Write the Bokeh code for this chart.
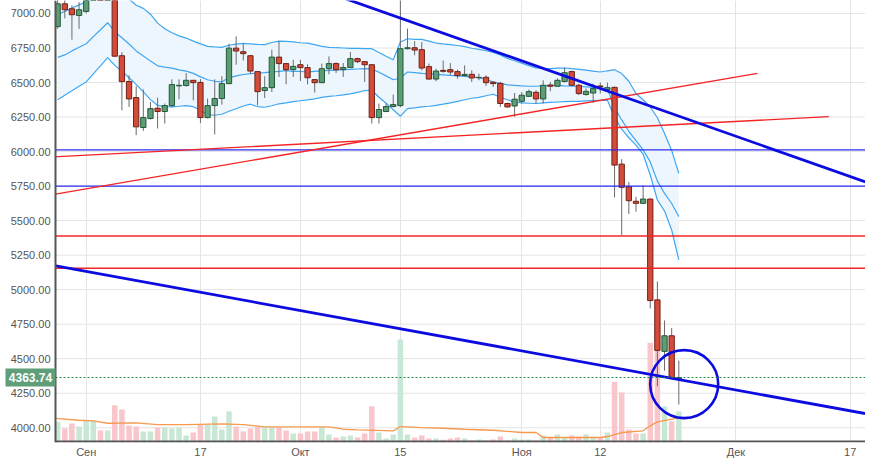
import pandas as pd
from bokeh.plotting import figure
from bokeh.models import Range1d, FixedTicker
from bokeh.models import ColumnDataSource
from bokeh.embed import file_html
from bokeh.resources import INLINE

# ---------------- data ----------------
origin = pd.Timestamp("2018-09-01")
dates = pd.date_range("2018-08-28", "2018-11-23", freq="D")

open_ = [6905, 7070, 7034, 6985, 7015, 7190, 7270, 7260, 7370, 6694, 6507, 6391, 6174, 6239, 6314, 6290,
         6333, 6476, 6478, 6516, 6501, 6246, 6333, 6384, 6492, 6749, 6723, 6694, 6579, 6442, 6463, 6684,
         6637, 6593, 6629, 6608, 6521, 6499, 6600, 6637, 6593, 6608, 6673, 6651, 6629, 6246, 6290, 6326,
         6333, 6745, 6752, 6738, 6615, 6525, 6588, 6593, 6579, 6550, 6559, 6535, 6538, 6502, 6494, 6348,
         6330, 6364, 6400, 6429, 6381, 6482, 6473, 6507, 6579, 6480, 6413, 6424, 6475, 6449, 6465, 5909,
         5745, 5640, 5625, 5656, 4926, 4553, 4666, 4355]
high = [7110, 7100, 7058, 7082, 7240, 7340, 7340, 7410, 7400, 6720, 6552, 6473, 6449, 6359, 6391, 6348,
        6523, 6523, 6569, 6518, 6525, 6384, 6523, 6545, 6781, 6834, 6781, 6700, 6583, 6545, 6738, 6800,
        6640, 6665, 6665, 6632, 6525, 6637, 6689, 6646, 6641, 6720, 6680, 6655, 6632, 6348, 6348, 6413,
        7450, 6890, 6800, 6793, 6637, 6600, 6660, 6641, 6593, 6624, 6588, 6564, 6552, 6511, 6504, 6355,
        6424, 6431, 6449, 6444, 6516, 6504, 6530, 6608, 6585, 6492, 6457, 6492, 6500, 6500, 6470, 5945,
        5779, 5673, 5755, 5660, 5059, 4777, 4722, 4486]
low = [6890, 6964, 6810, 6889, 7000, 7150, 7200, 7240, 6684, 6299, 6323, 6119, 6150, 6232, 6167, 6203,
       6320, 6379, 6470, 6371, 6207, 6240, 6124, 6340, 6488, 6629, 6660, 6564, 6335, 6388, 6431, 6540,
       6487, 6540, 6511, 6487, 6427, 6495, 6559, 6569, 6540, 6605, 6640, 6504, 6203, 6203, 6285, 6320,
       6320, 6740, 6697, 6588, 6520, 6509, 6570, 6552, 6528, 6545, 6504, 6516, 6475, 6467, 6323, 6318,
       6251, 6348, 6395, 6348, 6348, 6436, 6470, 6500, 6475, 6410, 6405, 6352, 6420, 6440, 5668, 5396,
       5548, 5564, 5620, 4864, 4300, 4413, 4355, 4168]
close = [7070, 7027, 6991, 7027, 7190, 7270, 7260, 7370, 6691, 6507, 6381, 6179, 6246, 6311, 6290, 6333,
         6485, 6480, 6516, 6499, 6246, 6333, 6384, 6492, 6749, 6728, 6709, 6583, 6434, 6463, 6684, 6637,
         6593, 6617, 6608, 6535, 6499, 6600, 6637, 6593, 6608, 6673, 6651, 6629, 6246, 6304, 6326, 6340,
         6745, 6752, 6735, 6605, 6525, 6583, 6581, 6576, 6550, 6559, 6533, 6537, 6499, 6492, 6348, 6323,
         6379, 6408, 6434, 6381, 6480, 6473, 6516, 6571, 6480, 6420, 6436, 6456, 6470, 6463, 5902, 5741,
         5644, 5625, 5656, 4921, 4560, 4666, 4361, 4363.74]
volume = [20.7, 14, 19, 16, 21.7, 21.7, 12, 12, 37.3, 33, 17, 16, 11, 11, 15, 15,
          14, 15, 7, 10, 18, 18, 26, 13, 31, 16, 11, 14, 16, 15, 15, 15,
          12, 9, 9, 11, 11, 15, 8, 5, 6, 7, 5, 9, 36.3, 10, 4, 8,
          103.3, 8, 5, 7, 4, 4, 2.7, 4, 5, 4, 2, 3, 2, 3, 6, 2,
          4, 3, 3, 2, 7, 5, 8, 5, 7, 6, 8, 6, 5, 10, 61, 50,
          13, 9, 9, 100, 119, 36, 21.3, 31]

bb_upper = [6993, 7015, 7040, 7062, 7085, 7140, 7190, 7230, 7200, 7150, 7105, 7060, 7037, 6995, 6930, 6890,
            6860, 6838, 6822, 6800, 6780, 6762, 6758, 6755, 6770, 6778, 6784, 6780, 6776, 6774, 6790, 6800,
            6798, 6794, 6788, 6785, 6775, 6762, 6755, 6752, 6750, 6748, 6747, 6746, 6745, 6718, 6690, 6665,
            6794, 6817, 6812, 6812, 6800, 6786, 6780, 6775, 6768, 6760, 6748, 6740, 6730, 6718, 6700, 6675,
            6658, 6640, 6622, 6606, 6600, 6600, 6604, 6605, 6600, 6595, 6590, 6583, 6576, 6585, 6593, 6565,
            6509, 6420, 6375, 6323, 6245, 6131, 6007, 5842]
bb_middle = [6682, 6700, 6729, 6756, 6781, 6832, 6882, 6933, 6868, 6824, 6779, 6729, 6692, 6655, 6621, 6611,
             6604, 6592, 6583, 6566, 6541, 6520, 6509, 6505, 6534, 6548, 6558, 6564, 6568, 6572, 6577, 6581,
             6586, 6581, 6580, 6577, 6581, 6585, 6588, 6590, 6593, 6595, 6598, 6600, 6599, 6574, 6548, 6520,
             6533, 6576, 6572, 6566, 6563, 6559, 6556, 6552, 6548, 6545, 6541, 6535, 6523, 6504, 6494, 6483,
             6480, 6476, 6473, 6473, 6476, 6480, 6480, 6476, 6473, 6473, 6469, 6465, 6463, 6455, 6319, 6229,
             6147, 6080, 6012, 5925, 5786, 5697, 5624, 5528]
bb_lower = [6376, 6408, 6440, 6473, 6504, 6563, 6621, 6680, 6624, 6582, 6535, 6487, 6432, 6376, 6334, 6325,
            6324, 6328, 6333, 6325, 6299, 6267, 6263, 6270, 6292, 6310, 6330, 6343, 6326, 6321, 6332, 6346,
            6353, 6361, 6368, 6374, 6382, 6393, 6400, 6404, 6411, 6418, 6429, 6442, 6444, 6393, 6350, 6303,
            6256, 6311, 6317, 6324, 6328, 6334, 6343, 6353, 6364, 6375, 6386, 6393, 6404, 6415, 6393, 6375,
            6357, 6352, 6350, 6348, 6352, 6356, 6359, 6361, 6363, 6364, 6367, 6369, 6371, 6371, 6249, 6162,
            6100, 6046, 5981, 5830, 5649, 5569, 5432, 5215]

vol_ma_dates = ["2018-08-27", "2018-08-28", "2018-08-31", "2018-09-02", "2018-09-04", "2018-09-08",
                "2018-09-11", "2018-09-15", "2018-09-20", "2018-09-23", "2018-09-26", "2018-10-05",
                "2018-10-07", "2018-10-09", "2018-10-14", "2018-10-15", "2018-10-18", "2018-10-21",
                "2018-10-24", "2018-10-28", "2018-11-01", "2018-11-03", "2018-11-04", "2018-11-12",
                "2018-11-13", "2018-11-15", "2018-11-18", "2018-11-19", "2018-11-20", "2018-11-23"]
vol_ma = [24.5, 24, 22.3, 21.7, 19.3, 19.7, 18, 18, 18.7, 18, 15.7, 15.7, 13.3, 12.7, 11.7, 16, 15, 14.3,
          13.3, 12.3, 10, 10, 5, 5, 6, 10, 11.7, 16.7, 20.7, 24.7]

# trend lines (date, price pairs) and horizontal levels
blue_trend_1 = (["2018-09-20", "2018-12-25"], [7422, 5674])
blue_trend_2 = (["2018-08-22", "2018-12-25"], [5226, 4047])
red_trend_1 = (["2018-08-22", "2018-12-04"], [5641, 6566])
red_trend_2 = (["2018-08-22", "2018-12-14"], [5947, 6253])
blue_levels = [6012, 5750]
red_levels = [5389, 5155]
circle_date, circle_price = "2018-11-23 18:00", 4316

tick_dates = ["2018-09-01", "2018-09-17", "2018-10-01", "2018-10-15", "2018-11-01", "2018-11-12",
              "2018-12-01", "2018-12-17"]
tick_labels = ["Сен", "17", "Окт", "15", "Ноя", "12", "Дек", "17"]
y_ticks = [4000, 4250, 4500, 4750, 5000, 5250, 5500, 5750, 6000, 6250, 6500, 6750, 7000]


def dayn(s):
    return (pd.Timestamp(s) - origin).total_seconds() / 86400.0


# ---------------- layout constants ----------------
W, H = 865, 460
AXIS_W = 55                      # width of the price-axis strip (drawn inside the frame)
PX_DAY = 7.14                    # pixels per day
X0 = -4.3                        # day value at the price axis
XL = X0 - AXIS_W / PX_DAY        # day value at the canvas left edge
XR = X0 + (W - AXIS_W) / PX_DAY
Y0, Y1 = 3893, 7094
UNITS_PX = (Y1 - Y0) / 443.0     # price units per pixel

days = [float((d - origin).days) for d in dates]
up = [c >= o for o, c in zip(open_, close)]
src = ColumnDataSource(dict(
    x=days, o=open_, h=high, l=low, c=close,
    top=[max(o, c) for o, c in zip(open_, close)],
    bot=[min(o, c) for o, c in zip(open_, close)],
    fill=["#5c9d74" if u else "#d54b39" for u in up],
    edge=["#24573a" if u else "#6e2118" for u in up],
    vol=volume,
    vcol=["#c8e7d4" if u else "#f9c6cc" for u in up],
))

p = figure(width=W, height=H, output_backend="svg", toolbar_location=None,
           x_range=Range1d(XL, XR), y_range=Range1d(Y0, Y1), y_axis_location=None,
           min_border_left=0, min_border_right=0, min_border_top=0, min_border_bottom=17)
p.outline_line_color = None
p.background_fill_color = "white"
p.extra_y_ranges = {"vol": Range1d(0, 443)}

# x axis (labels only; the line is drawn below)
p.xaxis.ticker = FixedTicker(ticks=[dayn(t) for t in tick_dates])
p.xaxis.major_label_overrides = {dayn(t): lab for t, lab in zip(tick_dates, tick_labels)}
p.xaxis.axis_line_color = None
p.xaxis.major_tick_line_color = None
p.xaxis.minor_tick_line_color = None
p.xaxis.major_tick_out = 0
p.xaxis.major_tick_in = 0
p.xaxis.major_label_text_font = "Liberation Sans"
p.xaxis.major_label_text_font_size = "11px"
p.xaxis.major_label_text_color = "#555555"
p.xaxis.major_label_standoff = 3
p.xgrid.grid_line_color = "#e4e4e4"
p.ygrid.visible = False

grid_col = "#e4e4e4"
p.segment(x0=[X0] * len(y_ticks), y0=y_ticks, x1=[XR] * len(y_ticks), y1=y_ticks,
          line_color=grid_col, line_width=1)

# bands
p.varea(x=days, y1=bb_lower, y2=bb_upper, fill_color="#eef6fd")
for band in (bb_upper, bb_middle, bb_lower):
    p.line(days, band, line_color="#3fa6f2", line_width=1.2)

# volume
p.vbar(x="x", top="vol", bottom=0, width=0.77, fill_color="vcol", line_color=None,
       y_range_name="vol", source=src)
p.line([dayn(d) for d in vol_ma_dates], vol_ma, line_color="#f59a4f", line_width=1.3, y_range_name="vol")

# candles
p.segment(x0="x", y0="h", x1="x", y1="l", line_color="#6a6a6a", line_width=1, source=src)
p.vbar(x="x", top="top", bottom="bot", width=0.74, fill_color="fill", line_color="edge",
       line_width=1, source=src)

# drawings
n_b, n_r = len(blue_levels), len(red_levels)
p.segment(x0=[X0] * n_b, y0=blue_levels, x1=[XR] * n_b, y1=blue_levels, line_color="#2b2bf5", line_width=1.4)
p.segment(x0=[X0] * n_r, y0=red_levels, x1=[XR] * n_r, y1=red_levels, line_color="#f52424", line_width=1.4)
for (dd, pp) in (red_trend_1, red_trend_2):
    p.line([dayn(d) for d in dd], pp, line_color="#f52424", line_width=1.4)
for (dd, pp) in (blue_trend_1, blue_trend_2):
    p.line([dayn(d) for d in dd], pp, line_color="#0c0ce0", line_width=2.8)
p.scatter([dayn(circle_date)], [circle_price], marker="circle", size=68, fill_alpha=0,
          line_color="#0c0ce0", line_width=2.6)

last = close[-1]
p.segment(x0=[X0], y0=[last], x1=[XR], y1=[last], line_color="#1f8a4c", line_width=1.2, line_dash="2 2")

# price-axis strip: white mask, axis lines, tick labels
p.quad(left=[XL], right=[X0], bottom=[Y0], top=[Y1], fill_color="white", line_color=None)
p.segment(x0=[X0], y0=[Y0], x1=[X0], y1=[Y1], line_color="#555555", line_width=2)
p.segment(x0=[X0], y0=[Y0 + UNITS_PX], x1=[XR], y1=[Y0 + UNITS_PX], line_color="#555555", line_width=2)
p.text(x=[X0] * len(y_ticks), y=y_ticks, text=["%.2f" % v for v in y_ticks], x_offset=-5,
       text_align="right", text_baseline="middle", text_font_size="11px", text_color="#555555",
       text_font={"value": "Liberation Sans"})

# last-price tag
half = 9 * UNITS_PX
p.quad(left=[XL + 5 / PX_DAY], right=[X0], bottom=[last - half], top=[last + half],
       fill_color="#5e9e78", line_color=None)
p.text(x=[(XL + 5 / PX_DAY + X0) / 2], y=[last], text=["%.2f" % last], text_align="center",
       text_baseline="middle", text_font_size="12px", text_font_style="bold", text_color="white",
       text_font={"value": "Liberation Sans"})

open("out.html", "w").write(file_html(p, INLINE))
